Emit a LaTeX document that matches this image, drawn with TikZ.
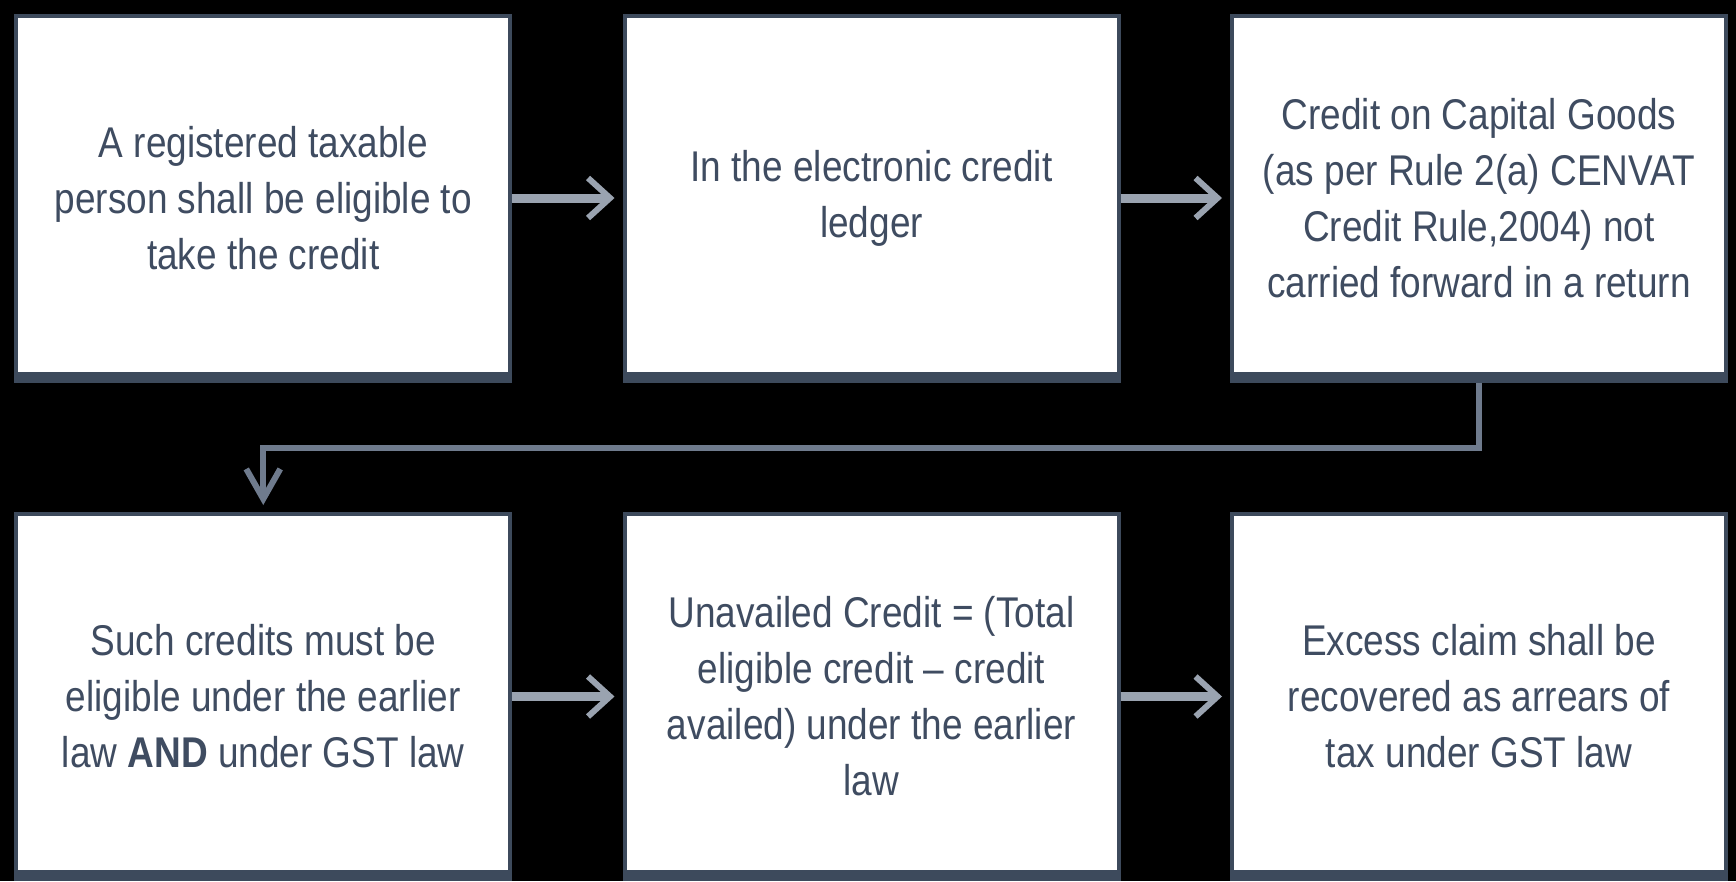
\documentclass[tikz,border=0pt]{standalone}
\usepackage{fontspec}
\setmainfont{Liberation Sans}[FakeStretch=0.86]
\usetikzlibrary{arrows.meta}
\definecolor{edge}{HTML}{3D4A5C}
\definecolor{ink}{HTML}{3F4C61}
\definecolor{shaft}{HTML}{9AA3B0}
\definecolor{elbow}{HTML}{6F7B8D}

\begin{document}
\begin{tikzpicture}[x=1pt,y=-1pt,
  card/.style={rectangle, fill=white, draw=edge, line width=4pt,
    minimum width=494pt, minimum height=365pt, inner sep=0pt,
    align=center, text=ink, font=\fontsize{43}{56}\selectfont},
  flow/.style={draw=shaft, line width=9pt, shorten >=8pt,
    -{Straight Barb[length=22pt, width=40pt, line width'=6pt]}},
  elbowed/.style={draw=elbow, line width=6pt, shorten >=7pt,
    -{Straight Barb[length=30pt, width=34pt, line width'=6pt]}}]

% black page
\fill[black] (0,0) rectangle (1736,881);

% top row
\node[card] (b1) at (263.25,198) {A registered taxable\\person shall be eligible to\\take the credit};
\node[card] (b2) at (871.5,198) {In the electronic credit\\ledger};
\node[card] (b3) at (1479,198) {Credit on Capital Goods\\(as per Rule 2(a) CENVAT\\Credit Rule,2004) not\\carried forward in a return};

% bottom row
\node[card] (b4) at (263.25,696.5) {Such credits must be\\eligible under the earlier\\law \textbf{AND} under GST law};
\node[card] (b5) at (871.5,696.5) {Unavailed Credit = (Total\\eligible credit – credit\\availed) under the earlier\\law};
\node[card] (b6) at (1479,696.5) {Excess claim shall be\\recovered as arrears of\\tax under GST law};

% heavier lower edge of each card
\foreach \n in {b1,b2,b3,b4,b5,b6}
  \fill[edge] (\n.south west) rectangle ([shift={(0,-11)}]\n.south east);

% connectors
\draw[flow] (b1) -- (b2);
\draw[flow] (b2) -- (b3);
\draw[flow] (b4) -- (b5);
\draw[flow] (b5) -- (b6);

\coordinate (bend) at (1479,448);
\draw[elbowed] (b3.south) -- (bend) -| (b4.north);

\end{tikzpicture}
\end{document}
